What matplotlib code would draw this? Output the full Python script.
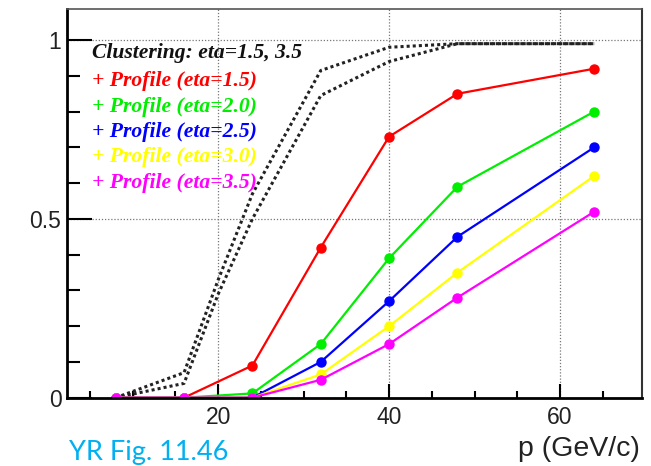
import matplotlib
matplotlib.use('Agg')
import matplotlib.pyplot as plt
from matplotlib.ticker import MultipleLocator

# momentum points (GeV/c)
p_vals = [8, 16, 24, 32, 40, 48, 64]

# efficiency for profile method, one list per eta
prof_eta15 = [0, 0, 0.09, 0.42, 0.73, 0.85, 0.92]
prof_eta20 = [0, 0, 0.012, 0.15, 0.39, 0.59, 0.80]
prof_eta25 = [0, 0, 0, 0.10, 0.27, 0.45, 0.70]
prof_eta30 = [0, 0, 0, 0.065, 0.20, 0.35, 0.62]
prof_eta35 = [0, 0, 0, 0.05, 0.15, 0.28, 0.52]

# clustering curves (eta=1.5 and eta=3.5)
clus_p = [8, 16, 20, 24, 32, 40, 48, 64]
clus_a = [0, 0.07, 0.33, 0.57, 0.915, 0.98, 0.99, 0.99]
clus_b = [0, 0.04, 0.29, 0.50, 0.845, 0.94, 0.99, 0.99]

legend_lines = ["Clustering: eta=1.5, 3.5",
                "+ Profile (eta=1.5)",
                "+ Profile (eta=2.0)",
                "+ Profile (eta=2.5)",
                "+ Profile (eta=3.0)",
                "+ Profile (eta=3.5)"]
legend_colors = ["#111111", "#ff0000", "#00ee00", "#0000ff", "#ffff00", "#ff00ff"]

fig = plt.figure(figsize=(6.51, 4.66), dpi=100)
ax = fig.add_axes([0.1029, 0.1466, 0.8833, 0.8341])

# dotted clustering curves
ax.plot(clus_p, clus_a, color="#222222", linestyle=(0, (1, 1)), linewidth=2.2)
ax.plot(clus_p, clus_b, color="#222222", linestyle=(0, (1, 1)), linewidth=2.2)

series = [prof_eta15, prof_eta20, prof_eta25, prof_eta30, prof_eta35]
for vals, col in zip(series, legend_colors[1:]):
    ax.plot(p_vals, vals, color=col, linewidth=1.6, marker='o', markersize=6.5,
            markeredgecolor=col, markerfacecolor=col)

ax.set_xlim(2.3, 69.6)
ax.set_ylim(0, 1.087)

# ROOT-ish ticks: inside, only left/bottom
ax.xaxis.set_major_locator(MultipleLocator(20))
ax.xaxis.set_minor_locator(MultipleLocator(5))
ax.yaxis.set_major_locator(MultipleLocator(0.5))
ax.yaxis.set_minor_locator(MultipleLocator(0.1))
ax.tick_params(axis='x', which='major', direction='in', length=10, width=1.5, pad=6)
ax.tick_params(axis='x', which='minor', direction='in', length=5, width=1.5)
ax.tick_params(axis='y', which='major', direction='in', length=18, width=1.5, pad=4)
ax.tick_params(axis='y', which='minor', direction='in', length=9, width=1.5)
ax.tick_params(axis='both', which='both', top=False, right=False)
ax.set_xticks([20, 40, 60])
ax.set_xticklabels(["20", "40", "60"])
ax.set_yticks([0, 0.5, 1])
ax.set_yticklabels(["0", "0.5", "1"])
for lbl in ax.get_xticklabels() + ax.get_yticklabels():
    lbl.set_fontfamily("Liberation Sans")
    lbl.set_fontsize(16.5)
    lbl.set_color("#222222")

# grid on major ticks
for gx in [20, 40, 60]:
    ax.axvline(gx, color="#777777", linestyle=(0, (1, 1.5)), linewidth=0.9, zorder=0)
for gy in [0.5, 1.0]:
    ax.axhline(gy, color="#777777", linestyle=(0, (1, 1.5)), linewidth=0.9, zorder=0)

ax.spines['left'].set_linewidth(2)
ax.spines['bottom'].set_linewidth(2)
ax.spines['top'].set_linewidth(1.2)
ax.spines['right'].set_linewidth(1.5)
ax.spines['top'].set_color("#555555")
ax.spines['right'].set_color("#333333")

# legend as text lines
ys = [0.887, 0.815, 0.748, 0.684, 0.619, 0.552]
for txt, col, yy in zip(legend_lines, legend_colors, ys):
    ax.text(0.0435, yy, txt, transform=ax.transAxes, color=col,
            fontfamily="Liberation Serif", fontweight="bold", fontstyle="italic",
            fontsize=15.6, va="center", ha="left")

fig.text(640 / 651, 1 - 436 / 466, "p (GeV/c)", ha="right", va="top",
         fontfamily="Liberation Sans", fontsize=20.5, color="#222222")
fig.text(69 / 651, 1 - 440 / 466, "YR Fig. 11.46", ha="left", va="top",
         fontfamily="Lato", fontsize=19.5, color="#00b0f0")

fig.savefig("out.png", dpi=100)
